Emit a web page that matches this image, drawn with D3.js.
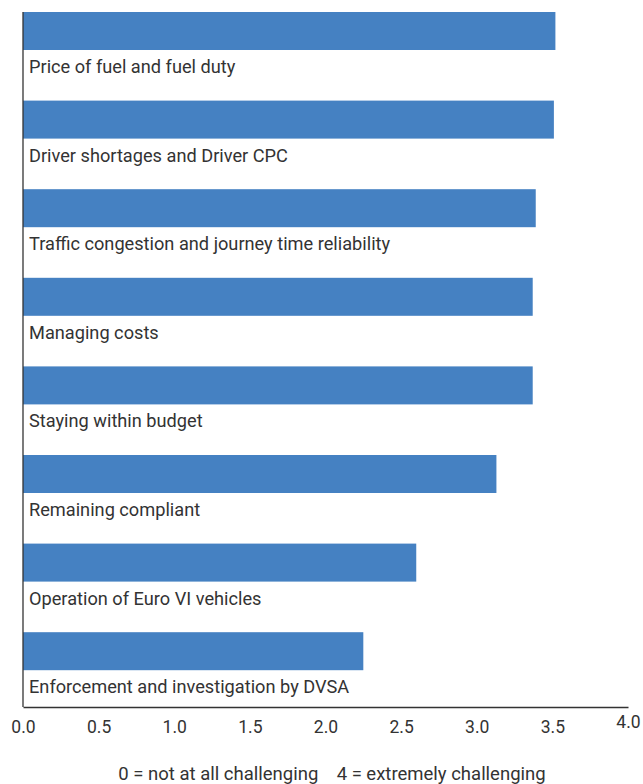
<!DOCTYPE html>
<html>
<head>
<meta charset="utf-8">
<script src="https://cdn.jsdelivr.net/npm/d3@7"></script>
<style>
  html, body { margin: 0; padding: 0; background: #fff; }
  svg { display: block; }
  text { font-family: Roboto, "Noto Sans", sans-serif; fill: #333; }
</style>
</head>
<body>
<svg id="chart" width="643" height="784"></svg>
<script>
// Average rating of each operational challenge (0–4 scale)
const categories = [
  "Price of fuel and fuel duty",
  "Driver shortages and Driver CPC",
  "Traffic congestion and journey time reliability",
  "Managing costs",
  "Staying within budget",
  "Remaining compliant",
  "Operation of Euro VI vehicles",
  "Enforcement and investigation by DVSA"
];
const values = [3.52, 3.51, 3.39, 3.37, 3.37, 3.13, 2.60, 2.25];
const tickValues = [0, 0.5, 1, 1.5, 2, 2.5, 3, 3.5, 4];
const footnote = "0 = not at all challenging    4 = extremely challenging";

const svg = d3.select("#chart");
const plotLeft = 23, plotRight = 628, plotTop = 12, baseline = 707;
const step = 88.6, barH = 38;

const x = d3.scaleLinear().domain([0, 4]).range([plotLeft, plotRight]);
const y = d3.scaleBand()
  .domain(categories)
  .range([plotTop, plotTop + categories.length * step - (step - barH)])
  .paddingInner((step - barH) / step)
  .paddingOuter(0);

// bars
svg.append("g").selectAll("rect")
  .data(values)
  .join("rect")
  .attr("x", x(0))
  .attr("y", (d, i) => y(categories[i]))
  .attr("width", d => x(d) - x(0))
  .attr("height", y.bandwidth())
  .attr("fill", "#4581c2");

// category labels beneath each bar
svg.append("g").selectAll("text")
  .data(categories)
  .join("text")
  .attr("x", plotLeft + 6)
  .attr("y", d => y(d) + y.bandwidth() + 23)
  .attr("font-size", 18.2)
  .text(d => d);

// vertical axis line
svg.append("line")
  .attr("x1", plotLeft).attr("x2", plotLeft)
  .attr("y1", plotTop).attr("y2", baseline)
  .attr("stroke", "#333").attr("stroke-width", 1.3);

const axis = d3.axisBottom(x)
  .tickValues(tickValues)
  .tickFormat(d3.format(".1f"))
  .tickSize(0)
  .tickPadding(17);

const gx = svg.append("g")
  .attr("transform", `translate(0,${baseline})`)
  .call(axis);
gx.select(".domain").attr("stroke", "#333").attr("stroke-width", 1.3);
gx.selectAll(".tick text")
  .attr("font-family", "Roboto, 'Noto Sans', sans-serif")
  .attr("font-size", 17.5)
  .attr("fill", "#333")
  .attr("dy", d => d === 4 ? "0.2em" : "0.5em");

// scale note
svg.append("text")
  .attr("x", 332)
  .attr("y", 780)
  .attr("text-anchor", "middle")
  .attr("font-size", 18.5)
  .style("white-space", "pre")
  .text(footnote);
</script>
</body>
</html>
